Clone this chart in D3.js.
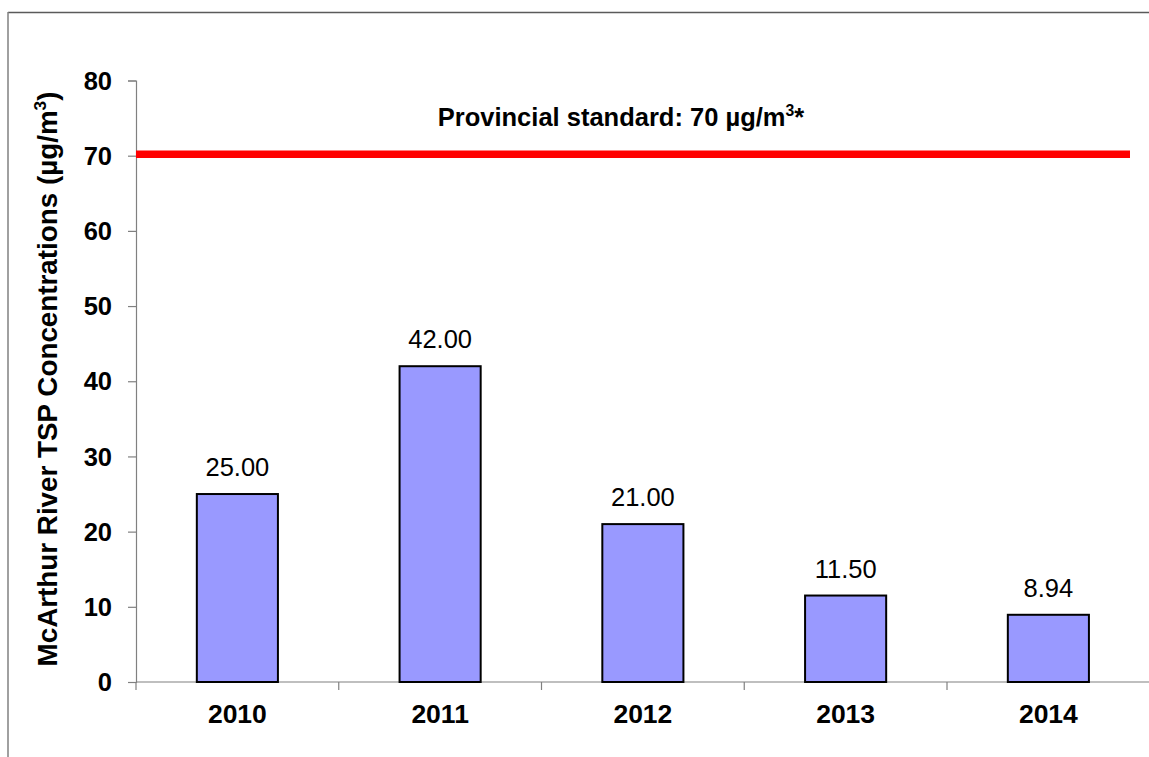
<!DOCTYPE html>
<html>
<head>
<meta charset="utf-8">
<script src="https://cdn.jsdelivr.net/npm/d3@7"></script>
<style>
  html, body { margin: 0; padding: 0; background: #fff; }
  svg { display: block; font-family: "Liberation Sans", Arial, sans-serif; }
</style>
</head>
<body>
<svg id="chart" width="1149" height="757"></svg>
<script>
// Annual TSP concentrations at McArthur River
const years = ["2010", "2011", "2012", "2013", "2014"];
const concentrations = [25.00, 42.00, 21.00, 11.50, 8.94];
const yTicks = [0, 10, 20, 30, 40, 50, 60, 70, 80];
const standardValue = 70;
const standardLabelParts = ["Provincial standard: 70 µg/m", "3", "*"];
const yTitleParts = ["McArthur River TSP Concentrations (µg/m", "3", ")"];

const svg = d3.select("#chart");

// outer frame (only its top and left edges fall inside the view)
svg.append("line").attr("x1", 8).attr("x2", 1149).attr("y1", 12.5).attr("y2", 12.5)
  .attr("stroke", "#5a5a5a").attr("stroke-width", 1.5);
svg.append("line").attr("x1", 8).attr("x2", 8).attr("y1", 12).attr("y2", 757)
  .attr("stroke", "#808080").attr("stroke-width", 1.5);

const plot = { left: 136, top: 80.5, bottom: 682, bandWidth: 202.75 };

const x = d3.scaleBand()
  .domain(years)
  .range([plot.left, plot.left + plot.bandWidth * years.length])
  .paddingInner(0).paddingOuter(0);

const y = d3.scaleLinear().domain([0, 80]).range([plot.bottom, plot.top]);

// y axis
const yAxis = svg.append("g")
  .attr("transform", `translate(${plot.left},0)`)
  .call(d3.axisLeft(y).tickValues(yTicks).tickSize(8).tickPadding(16).tickFormat(d3.format("d")));
yAxis.select(".domain").attr("stroke", "#808080").attr("stroke-width", 1.2);
yAxis.selectAll(".tick line").attr("stroke", "#808080").attr("stroke-width", 1.2);
yAxis.selectAll(".tick text")
  .attr("font-family", "'Liberation Sans', Arial, sans-serif")
  .attr("font-size", 25.5).attr("font-weight", "bold").attr("fill", "#000")
  .attr("dy", "0.34em");

// x axis: baseline plus tick marks at category boundaries
svg.append("line")
  .attr("x1", plot.left).attr("x2", 1149)
  .attr("y1", y(0)).attr("y2", y(0))
  .attr("stroke", "#808080").attr("stroke-width", 1.2);
svg.append("g").selectAll("line")
  .data(years)
  .join("line")
  .attr("x1", d => x(d)).attr("x2", d => x(d))
  .attr("y1", y(0)).attr("y2", y(0) + 8)
  .attr("stroke", "#808080").attr("stroke-width", 1.2);

svg.append("g").selectAll("text")
  .data(years)
  .join("text")
  .attr("x", d => x(d) + x.bandwidth() / 2)
  .attr("y", 723)
  .attr("text-anchor", "middle")
  .attr("font-size", 26.5).attr("font-weight", "bold")
  .text(d => d);

// bars
const barW = x.bandwidth() * 0.4;
const rows = years.map((yr, i) => ({ yr, v: concentrations[i] }));
svg.append("g").selectAll("rect")
  .data(rows)
  .join("rect")
  .attr("x", d => x(d.yr) + (x.bandwidth() - barW) / 2)
  .attr("y", d => y(d.v))
  .attr("width", barW)
  .attr("height", d => y(0) - y(d.v))
  .attr("fill", "#9999ff")
  .attr("stroke", "#000").attr("stroke-width", 2);

// value labels
svg.append("g").selectAll("text")
  .data(rows)
  .join("text")
  .attr("x", d => x(d.yr) + x.bandwidth() / 2)
  .attr("y", d => y(d.v) - 18)
  .attr("text-anchor", "middle")
  .attr("font-size", 25.5)
  .text(d => d3.format(".2f")(d.v));

// provincial standard line
svg.append("line")
  .attr("x1", plot.left).attr("x2", 1130)
  .attr("y1", y(standardValue) - 1.5).attr("y2", y(standardValue) - 1.5)
  .attr("stroke", "#ff0000").attr("stroke-width", 7.5);

// text with a superscript part
function supText(sel, parts, size) {
  sel.append("tspan").text(parts[0]);
  sel.append("tspan").attr("font-size", size * 0.62).attr("dy", -size * 0.38).text(parts[1]);
  sel.append("tspan").attr("dy", size * 0.38).text(parts[2]);
}

const std = svg.append("text")
  .attr("x", 621).attr("y", 126)
  .attr("text-anchor", "middle")
  .attr("font-size", 25.5).attr("font-weight", "bold");
supText(std, standardLabelParts, 25.5);

// y axis title
const yt = svg.append("text")
  .attr("transform", "translate(57,379) rotate(-90)")
  .attr("text-anchor", "middle")
  .attr("font-size", 27.8).attr("font-weight", "bold");
supText(yt, yTitleParts, 27.8);
</script>
</body>
</html>
